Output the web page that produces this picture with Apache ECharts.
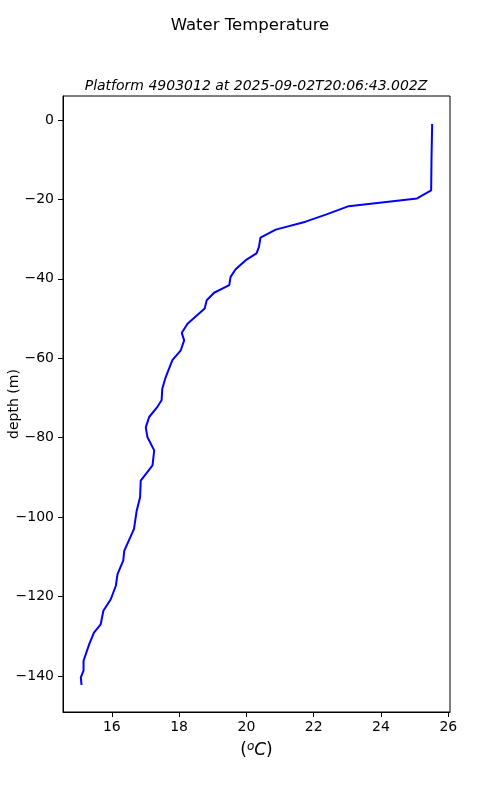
<!DOCTYPE html>
<html>
<head>
<meta charset="utf-8">
<script src="https://cdn.jsdelivr.net/npm/echarts@6/dist/echarts.min.js"></script>
<style>html,body{margin:0;padding:0;background:#fff;}#c{width:500px;height:800px;}</style>
</head>
<body>
<div id="c"></div>
<script>
const temperature = [25.52,25.50,25.49,25.07,23.04,22.40,21.76,20.87,20.42,20.37,20.30,19.98,19.68,19.53,19.49,19.04,18.82,18.76,18.25,18.08,18.15,18.05,17.80,17.60,17.50,17.48,17.35,17.11,17.01,17.06,17.26,17.21,16.86,16.84,16.74,16.66,16.37,16.34,16.17,16.12,15.97,15.75,15.67,15.47,15.33,15.16,15.16,15.08,15.10];
const depth = [-1.0,-10.0,-17.7,-19.75,-21.7,-23.7,-25.6,-27.6,-29.6,-32.0,-33.6,-35.3,-37.6,-39.5,-41.6,-43.5,-45.4,-47.5,-51.3,-53.6,-55.5,-58.0,-60.5,-64.8,-67.7,-70.6,-72.3,-74.8,-77.4,-79.9,-83.2,-87.0,-90.8,-95.0,-98.4,-103.0,-108.5,-111.0,-114.4,-117.3,-120.7,-123.6,-127.0,-129.1,-132.0,-136.2,-138.7,-140.4,-142.3];
const xTicks = [16,18,20,22,24,26];
const yTicks = [0,-20,-40,-60,-80,-100,-120,-140];
const titleText = 'Water Temperature';
const subtitleText = 'Platform 4903012 at 2025-09-02T20:06:43.002Z';
const yLabelText = 'depth (m)';

const fmt = v => String(v).replace('-', '\u2212');
const chart = echarts.init(document.getElementById('c'), null, {renderer:'canvas'});
const font = 'DejaVu Sans';
chart.setOption({
  animation: false,
  backgroundColor: '#fff',
  textStyle: {fontFamily: font},
  title: [
    {text: titleText, left: 245, top: 12, textAlign: 'center',
     textStyle: {fontFamily: font, fontSize: 16.5, fontWeight: 'normal', color: '#000'}},
    {text: subtitleText, left: 251, top: 74, textAlign: 'center',
     textStyle: {fontFamily: font, fontSize: 14, fontStyle: 'italic', fontWeight: 'normal', color: '#000'}}
  ],
  graphic: [{
    type: 'text', x: 14, y: 404, rotation: Math.PI / 2,
    style: {text: yLabelText, fontSize: 14, fontFamily: font, fill: '#000', align: 'center', verticalAlign: 'middle'}
  }],
  grid: {left: 63, right: 50, top: 96, bottom: 88, show: true, borderColor: '#000', borderWidth: 1,
         containLabel: false, outerBoundsMode: 'none'},
  xAxis: {
    type: 'value', min: 14.55, max: 26.05,
    axisLine: {show: true, onZero: false, lineStyle: {color: '#000', width: 1}},
    axisTick: {show: true, inside: false, length: 5, lineStyle: {color: '#000'}, customValues: xTicks},
    axisLabel: {show: true, margin: 8, fontSize: 14, color: '#000', fontFamily: font, customValues: xTicks, formatter: fmt},
    splitLine: {show: false},
    name: '({sup|o}{it|C})', nameLocation: 'middle', nameGap: 29,
    nameTextStyle: {fontSize: 17, color: '#000', fontFamily: font,
      rich: {
        sup: {fontSize: 12, fontStyle: 'italic', fontFamily: font, color: '#000', verticalAlign: 'top', padding: [0,0,7,0]},
        it: {fontSize: 17, fontStyle: 'italic', fontFamily: font, color: '#000'}
      }}
  },
  yAxis: {
    type: 'value', min: -149.1, max: 6.05,
    axisLine: {show: true, onZero: false, lineStyle: {color: '#000', width: 1}},
    axisTick: {show: true, inside: false, length: 5, lineStyle: {color: '#000'}, customValues: yTicks},
    axisLabel: {show: true, margin: 9, fontSize: 14, color: '#000', fontFamily: font, customValues: yTicks, formatter: fmt},
    splitLine: {show: false}
  },
  series: [{
    type: 'line',
    data: temperature.map((t, i) => [t, depth[i]]),
    showSymbol: false,
    symbol: 'none',
    lineStyle: {color: '#0000ff', width: 2},
    itemStyle: {color: '#0000ff'}
  }]
});
</script>
</body>
</html>
